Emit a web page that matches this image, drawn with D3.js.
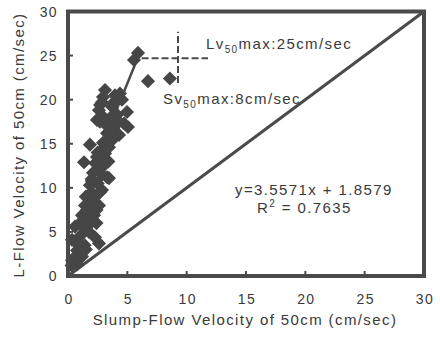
<!DOCTYPE html>
<html>
<head>
<meta charset="utf-8">
<script src="https://cdn.jsdelivr.net/npm/d3@7"></script>
<style>
  body { margin: 0; background: #fff; }
  text { font-family: "Liberation Sans", Arial, sans-serif; fill: #3a3a3a; letter-spacing: 1.4px; }
</style>
</head>
<body>
<div id="chart"></div>
<script>
const W = 440, H = 339;

// slump-flow velocity (x) vs L-flow velocity (y), cm/sec
const slumpV = [5.90, 5.56, 6.74, 8.59, 3.12, 3.96, 4.38, 2.95, 2.86, 2.61, 2.70, 3.71, 3.79, 4.55, 4.97,
  4.13, 2.44, 5.05, 4.72, 3.54, 2.70, 4.30, 3.29, 3.71, 1.85, 3.45, 2.95, 3.12, 1.35, 2.44,
  2.86, 2.70, 2.61, 2.11, 2.86, 3.29, 3.45, 1.85, 2.86, 2.27, 1.43, 2.61, 1.18, 2.19, 1.01,
  0.59, 1.77, 2.27, 2.61, 0.34, 0.76, 1.18, 0.34, 0.30, 0.76, 2.0, 1.6, 2.4, 1.4, 2.0,
  1.5, 2.0, 2.3, 3.0, 2.5, 3.3, 3.0, 1.0, 1.3, 1.6, 2.4, 2.0, 2.5, 3.0, 3.8, 4.3, 3.9,
  0.5, 0.9, 1.5, 1.9, 2.2, 2.7, 3.4, 3.6];
const lflowV = [25.3, 24.5, 22.1, 22.4, 21.1, 20.5, 20.7, 20.3, 19.7, 18.8, 19.4, 19.2, 19.6, 20.0, 18.6,
  18.3, 17.7, 16.9, 17.3, 17.9, 17.5, 16.0, 16.2, 15.4, 14.9, 14.6, 15.1, 13.9, 12.9, 13.5,
  13.2, 12.4, 12.2, 11.7, 11.5, 11.2, 11.1, 10.3, 9.75, 9.0, 8.0, 8.0, 6.9, 6.9, 6.0,
  5.6, 5.0, 4.4, 3.7, 4.1, 2.9, 2.2, 1.8, 1.2, 1.3, 10.8, 7.5, 6.0, 3.5, 8.5,
  9.0, 9.5, 12.8, 14.5, 14.0, 17.0, 18.0, 4.5, 5.5, 6.5, 7.5, 11.0, 10.5, 12.5, 16.8, 17.5, 18.0,
  2.0, 3.5, 3.0, 6.0, 8.5, 9.5, 13.0, 15.8];

const xTicks = [0, 5, 10, 15, 20, 25, 30];
const yTicks = [0, 5, 10, 15, 20, 25, 30];
const fitLine = [[3.5, 16.9], [5.9, 24.8]];
const diagLine = [[0, 0], [30, 30]];
const lvMaxLine = [[6.2, 24.7], [11.8, 24.7]];
const svMaxLine = [[9.27, 21.9], [9.27, 27.7]];

const x = d3.scaleLinear().domain([0, 30]).range([68, 424]);
const y = d3.scaleLinear().domain([0, 30]).range([276, 11.5]);

const svg = d3.select("#chart").append("svg")
  .attr("width", W).attr("height", H);

const line = d3.line().x(d => x(d[0])).y(d => y(d[1]));

// diagonal y = x
svg.append("path").datum(diagLine)
  .attr("d", line).attr("fill", "none")
  .attr("stroke", "#4a4a4a").attr("stroke-width", 3);

// dashed max lines
[lvMaxLine, svMaxLine].forEach(l => {
  svg.append("path").datum(l)
    .attr("d", line).attr("fill", "none")
    .attr("stroke", "#4a4a4a").attr("stroke-width", 2)
    .attr("stroke-dasharray", "7,3");
});

// fit line
svg.append("path").datum(fitLine)
  .attr("d", line).attr("fill", "none")
  .attr("stroke", "#4a4a4a").attr("stroke-width", 2.5);

// points
const diamond = d3.symbol().type(d3.symbolSquare).size(100);
svg.selectAll(".pt")
  .data(slumpV.map((v, i) => [v, lflowV[i]]))
  .enter()
  .append("path")
  .attr("class", "pt")
  .attr("d", diamond)
  .attr("transform", d => `translate(${x(d[0])},${y(d[1])}) rotate(45)`)
  .attr("fill", "#464646");

// frame
svg.append("rect")
  .attr("x", x(0)).attr("y", y(30))
  .attr("width", x(30) - x(0)).attr("height", y(0) - y(30))
  .attr("fill", "none").attr("stroke", "#4a4a4a").attr("stroke-width", 4);

// inner ticks
svg.selectAll(".xt").data(xTicks.slice(1, -1)).enter().append("line")
  .attr("x1", d => x(d)).attr("x2", d => x(d))
  .attr("y1", y(0)).attr("y2", y(0) - 5)
  .attr("stroke", "#4a4a4a").attr("stroke-width", 2);
svg.selectAll(".yt").data(yTicks.slice(1, -1)).enter().append("line")
  .attr("y1", d => y(d)).attr("y2", d => y(d))
  .attr("x1", x(0)).attr("x2", x(0) + 5)
  .attr("stroke", "#4a4a4a").attr("stroke-width", 2);

// tick labels
svg.selectAll(".xl").data(xTicks).enter().append("text")
  .attr("x", d => x(d) + 1).attr("y", 304)
  .attr("text-anchor", "middle").style("font-size", "14px")
  .text(d => d);
svg.selectAll(".yl").data(yTicks).enter().append("text")
  .attr("x", 58).attr("y", d => y(d)).attr("dy", "0.36em")
  .attr("text-anchor", "end").style("font-size", "14px")
  .text(d => d);

// axis titles
svg.append("text")
  .attr("x", 245).attr("y", 325)
  .attr("text-anchor", "middle").style("font-size", "15px")
  .text("Slump-Flow Velocity of 50cm (cm/sec)");
svg.append("text")
  .attr("transform", "translate(24,145) rotate(-90)")
  .attr("text-anchor", "middle").style("font-size", "15px")
  .text("L-Flow Velocity of 50cm (cm/sec)");

// annotations
function subLabel(px, py, a, sub, b) {
  const t = svg.append("text").attr("x", px).attr("y", py).style("font-size", "15px");
  t.append("tspan").text(a);
  t.append("tspan").attr("dy", 4).style("font-size", "10px").text(sub);
  t.append("tspan").attr("dy", -4).text(b);
}
subLabel(206, 49, "Lv", "50", "max:25cm/sec");
subLabel(163, 104, "Sv", "50", "max:8cm/sec");

svg.append("text")
  .attr("x", 235).attr("y", 195).style("font-size", "15px")
  .text("y=3.5571x + 1.8579");
const r2 = svg.append("text")
  .attr("x", 257).attr("y", 213).style("font-size", "15px");
r2.append("tspan").text("R");
r2.append("tspan").attr("dy", -6).style("font-size", "10px").text("2");
r2.append("tspan").attr("dy", 6).text(" = 0.7635");
</script>
</body>
</html>
